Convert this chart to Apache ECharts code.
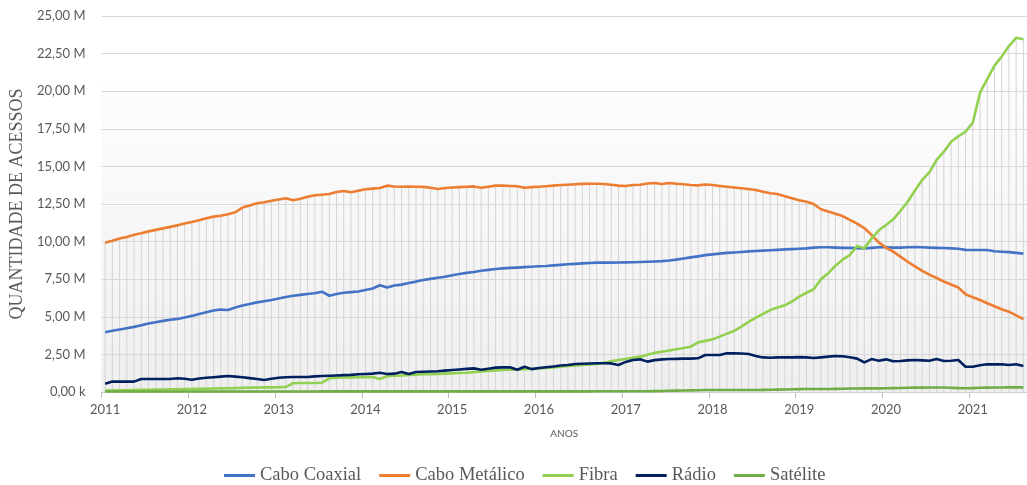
<!DOCTYPE html>
<html>
<head>
<meta charset="utf-8">
<script src="https://cdn.jsdelivr.net/npm/echarts@6/dist/echarts.min.js"></script>
<style>
html,body{margin:0;padding:0;background:#fff;}
#chart{width:1027px;height:485px;}
</style>
</head>
<body>
<div id="chart"></div>
<script>
// Monthly categories, Jan 2011 .. Aug 2021
var startYear = 2011;
var monthCount = 128;
var categories = [];
for (var k = 0; k < monthCount; k++) {
  var yy = startYear + Math.floor(k / 12);
  var mm = (k % 12) + 1;
  categories.push(yy + '-' + (mm < 10 ? '0' + mm : mm));
}

var seriesNames = ['Cabo Coaxial', 'Cabo Metálico', 'Fibra', 'Rádio', 'Satélite'];

// values in millions of accesses
var caboCoaxial = [
3.97,4.07,4.15,4.24,4.33,4.44,4.55,4.64,4.73,4.80,4.86,4.96,
5.06,5.18,5.30,5.42,5.48,5.45,5.62,5.75,5.85,5.96,6.04,6.12,
6.22,6.32,6.40,6.46,6.52,6.57,6.67,6.40,6.52,6.60,6.64,6.68,
6.78,6.88,7.10,6.95,7.08,7.14,7.25,7.34,7.45,7.52,7.60,7.66,
7.76,7.85,7.92,7.98,8.06,8.12,8.18,8.22,8.25,8.27,8.30,8.33,
8.36,8.38,8.42,8.45,8.49,8.52,8.55,8.58,8.60,8.60,8.60,8.61,
8.62,8.63,8.64,8.66,8.68,8.70,8.74,8.80,8.88,8.95,9.02,9.10,
9.15,9.20,9.25,9.28,9.31,9.35,9.38,9.40,9.42,9.45,9.48,9.50,
9.52,9.55,9.60,9.62,9.62,9.60,9.58,9.58,9.56,9.55,9.58,9.62,
9.62,9.60,9.60,9.62,9.63,9.62,9.60,9.58,9.57,9.55,9.52,9.45,
9.44,9.44,9.44,9.36,9.33,9.30,9.25,9.20
];

var caboMetalico = [
9.93,10.05,10.20,10.30,10.45,10.55,10.68,10.78,10.88,10.98,11.08,11.20,
11.30,11.42,11.55,11.66,11.72,11.82,11.95,12.26,12.40,12.55,12.62,12.72,
12.80,12.88,12.75,12.85,12.98,13.08,13.12,13.16,13.30,13.36,13.28,13.38,
13.48,13.52,13.56,13.72,13.66,13.65,13.66,13.65,13.64,13.58,13.50,13.56,
13.60,13.62,13.65,13.67,13.58,13.65,13.72,13.72,13.70,13.68,13.58,13.62,
13.65,13.68,13.72,13.76,13.78,13.81,13.84,13.85,13.85,13.83,13.78,13.72,
13.70,13.76,13.78,13.86,13.90,13.83,13.90,13.85,13.81,13.76,13.74,13.80,
13.76,13.70,13.65,13.60,13.55,13.50,13.43,13.32,13.21,13.16,13.02,12.88,
12.75,12.65,12.50,12.15,12.00,11.85,11.70,11.45,11.20,10.90,10.45,9.95,
9.60,9.33,9.00,8.66,8.35,8.05,7.80,7.58,7.35,7.15,6.95,6.50,
6.30,6.12,5.90,5.70,5.50,5.34,5.10,4.85
];

var fibra = [
0.10,0.10,0.11,0.12,0.13,0.14,0.15,0.16,0.17,0.18,0.18,0.19,
0.20,0.21,0.22,0.23,0.24,0.25,0.26,0.28,0.29,0.30,0.31,0.31,
0.32,0.34,0.58,0.60,0.60,0.60,0.62,0.91,0.95,0.96,0.97,0.98,
0.99,1.00,0.86,1.05,1.08,1.10,1.13,1.15,1.18,1.19,1.20,1.22,
1.24,1.26,1.28,1.32,1.36,1.40,1.44,1.46,1.48,1.50,1.52,1.53,
1.56,1.60,1.64,1.68,1.73,1.76,1.80,1.83,1.86,1.95,2.05,2.13,
2.20,2.28,2.35,2.48,2.60,2.68,2.76,2.84,2.92,3.01,3.30,3.40,
3.50,3.68,3.88,4.06,4.35,4.67,4.95,5.20,5.45,5.62,5.76,6.02,
6.34,6.60,6.83,7.49,7.89,8.40,8.80,9.11,9.71,9.55,10.20,10.75,
11.10,11.48,12.05,12.65,13.40,14.10,14.60,15.43,15.98,16.64,17.00,17.31,
17.90,19.90,20.80,21.70,22.30,23.00,23.55,23.45
];

var radio = [
0.55,0.69,0.69,0.69,0.69,0.86,0.86,0.86,0.86,0.86,0.91,0.88,
0.82,0.90,0.95,0.98,1.02,1.06,1.02,0.98,0.92,0.86,0.80,0.88,
0.95,0.98,1.00,1.00,1.00,1.04,1.06,1.08,1.10,1.12,1.14,1.18,
1.20,1.22,1.28,1.20,1.22,1.33,1.20,1.33,1.35,1.36,1.38,1.42,
1.46,1.50,1.54,1.57,1.48,1.55,1.62,1.64,1.64,1.48,1.68,1.52,
1.60,1.65,1.70,1.76,1.80,1.86,1.88,1.90,1.91,1.91,1.90,1.80,
2.00,2.13,2.17,2.02,2.12,2.17,2.19,2.20,2.22,2.22,2.24,2.46,
2.46,2.46,2.57,2.57,2.56,2.53,2.40,2.30,2.28,2.30,2.31,2.30,
2.32,2.30,2.26,2.30,2.35,2.39,2.38,2.31,2.22,1.97,2.19,2.08,
2.17,2.04,2.06,2.10,2.13,2.10,2.08,2.19,2.06,2.08,2.13,1.68,
1.68,1.78,1.84,1.84,1.84,1.80,1.85,1.73
];

var satelite = [
0.03,0.03,0.03,0.03,0.03,0.03,0.03,0.03,0.03,0.03,0.03,0.03,
0.03,0.03,0.03,0.03,0.03,0.03,0.03,0.03,0.03,0.03,0.03,0.03,
0.03,0.03,0.03,0.03,0.03,0.03,0.04,0.04,0.04,0.04,0.04,0.04,
0.04,0.04,0.04,0.04,0.04,0.04,0.04,0.04,0.04,0.04,0.04,0.04,
0.04,0.04,0.04,0.04,0.04,0.04,0.04,0.04,0.04,0.04,0.04,0.04,
0.04,0.04,0.04,0.04,0.04,0.04,0.04,0.04,0.05,0.05,0.05,0.05,
0.05,0.05,0.05,0.05,0.06,0.07,0.08,0.09,0.10,0.11,0.12,0.13,
0.13,0.13,0.13,0.13,0.13,0.13,0.13,0.14,0.15,0.16,0.17,0.18,
0.19,0.20,0.20,0.20,0.20,0.21,0.22,0.23,0.23,0.24,0.24,0.24,
0.25,0.26,0.27,0.28,0.29,0.29,0.30,0.30,0.30,0.28,0.26,0.25,
0.26,0.28,0.29,0.30,0.30,0.31,0.31,0.31
];

var yTicks = [0, 2.5, 5, 7.5, 10, 12.5, 15, 17.5, 20, 22.5, 25];

var seriesData = [caboCoaxial, caboMetalico, fibra, radio, satelite];
var colors = ['#4472C4', '#ED7D31', '#92D050', '#002060', '#70AD47'];

// drop lines: from the highest series value at each month down to the axis
var dropLines = categories.map(function (c, i) {
  var m = 0;
  seriesData.forEach(function (arr) { if (arr[i] > m) m = arr[i]; });
  return m;
});

var chart = echarts.init(document.getElementById('chart'), null, {renderer: 'canvas'});

var series = [{
  name: 'drop',
  type: 'bar',
  data: dropLines,
  barWidth: 1,
  silent: true,
  z: 1,
  itemStyle: {color: '#d4d4d4'},
  legendHoverLink: false
}];
seriesNames.forEach(function (n, i) {
  series.push({
    name: n,
    type: 'line',
    data: seriesData[i],
    symbol: 'none',
    z: 3 + i,
    lineStyle: {width: 2.6, color: colors[i], join: 'round'},
    itemStyle: {color: colors[i]}
  });
});

chart.setOption({
  animation: false,
  backgroundColor: '#ffffff',
  color: colors,
  grid: {
    left: 101.5,
    top: 16,
    height: 376,
    width: 931,
    show: true,
    borderWidth: 0,
    backgroundColor: {
      type: 'linear', x: 0, y: 0, x2: 0, y2: 1,
      colorStops: [
        {offset: 0, color: '#ffffff'},
        {offset: 0.17, color: '#ffffff'},
        {offset: 0.18, color: '#fdfdfd'},
        {offset: 1, color: '#efefef'}
      ]
    }
  },
  legend: {
    data: seriesNames,
    left: 219,
    top: 461,
    icon: 'rect',
    itemWidth: 31,
    itemHeight: 3,
    itemGap: 18,
    textStyle: {fontFamily: 'Liberation Serif', fontSize: 18.5, color: '#595959'}
  },
  xAxis: {
    type: 'category',
    data: categories,
    boundaryGap: true,
    name: 'ANOS',
    nameLocation: 'middle',
    nameGap: 37,
    nameTextStyle: {fontFamily: 'Lato', fontSize: 10, color: '#595959'},
    axisLine: {show: true, lineStyle: {color: '#d0d0d0', width: 1}},
    axisTick: {show: true, interval: 11, length: 6, lineStyle: {color: '#bfbfbf'}},
    axisLabel: {
      interval: 11,
      margin: 11,
      fontFamily: 'Lato',
      fontSize: 13,
      color: '#595959',
      formatter: function (v) { return v.slice(0, 4); }
    },
    splitLine: {show: false}
  },
  yAxis: {
    type: 'value',
    min: yTicks[0],
    max: yTicks[yTicks.length - 1],
    interval: 2.5,
    name: 'QUANTIDADE DE ACESSOS',
    nameLocation: 'middle',
    nameRotate: 90,
    nameGap: 69,
    nameTextStyle: {fontFamily: 'Liberation Serif', fontSize: 18, color: '#595959'},
    axisLine: {show: false},
    axisTick: {show: false},
    axisLabel: {
      margin: 16,
      fontFamily: 'Lato',
      fontSize: 13,
      color: '#595959',
      formatter: function (v) {
        if (v === 0) return '0,00 k';
        return v.toFixed(2).replace('.', ',') + ' M';
      }
    },
    splitLine: {show: true, lineStyle: {color: '#d9d9d9', width: 1}}
  },
  series: series
});
</script>
</body>
</html>
